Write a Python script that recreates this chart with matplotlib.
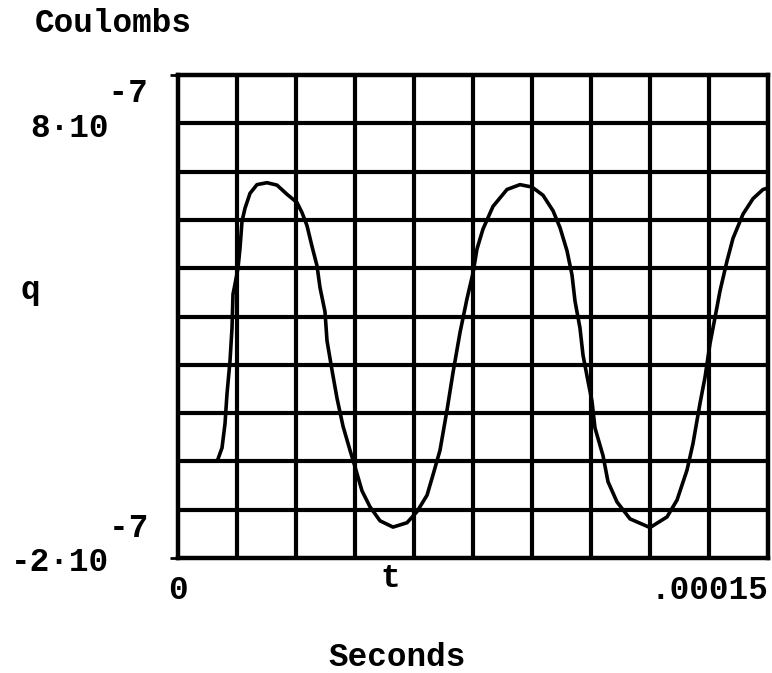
import numpy as np
import matplotlib
matplotlib.use("Agg")
import matplotlib.pyplot as plt
from matplotlib.ticker import MultipleLocator
import matplotlib.transforms as mtransforms

# ---- data ----
time_us = [10.17, 11.19, 11.95, 12.46, 13.22, 13.73, 13.98, 14.49, 15.25, 15.76,
           16.27, 17.03, 18.31, 20.08, 22.63, 25.17, 27.71, 30.25, 31.53, 32.80,
           34.07, 35.34, 36.10, 37.37, 37.88, 39.15, 40.42, 41.95, 43.73, 45.00,
           46.78, 48.81, 51.36, 54.66, 58.22, 60.76, 63.31, 64.83, 66.61, 68.39,
           69.92, 71.70, 73.48, 75.00, 76.02, 77.54, 80.09, 83.64, 86.95, 90.00,
           92.80, 95.34, 97.12, 98.90, 100.17, 100.93, 102.20, 102.97, 104.24, 105.26,
           106.02, 108.05, 109.32, 111.61, 114.92, 120.00, 124.32, 126.87, 129.41, 130.93,
           132.71, 133.98, 135.26, 136.53, 137.80, 139.58, 141.11, 143.65, 146.19, 148.73,
           150.00]
charge_e7 = [0.05, 0.28, 0.78, 1.40, 2.08, 2.76, 3.46, 3.67, 4.00, 4.41,
             4.97, 5.24, 5.55, 5.73, 5.77, 5.72, 5.53, 5.36, 5.15, 4.88,
             4.45, 4.05, 3.60, 3.10, 2.50, 1.89, 1.31, 0.73, 0.23, -0.11,
             -0.61, -0.94, -1.23, -1.36, -1.27, -1.04, -0.70, -0.28, 0.23, 1.06,
             1.84, 2.67, 3.37, 3.90, 4.40, 4.81, 5.28, 5.63, 5.73, 5.68,
             5.51, 5.19, 4.84, 4.36, 3.86, 3.32, 2.76, 2.20, 1.66, 1.24,
             0.69, 0.12, -0.42, -0.84, -1.19, -1.37, -1.15, -0.80, -0.18, 0.37,
             1.20, 1.74, 2.44, 2.98, 3.53, 4.15, 4.62, 5.12, 5.44, 5.63,
             5.66]

x_ticks = [0.0, 0.00015]
x_tick_labels = ["0", ".00015"]
y_ticks = [-2e-7, 8e-7]
y_tick_labels = ["     -7\n-2\u00b710", "    -7\n8\u00b710"]
x_grid_step = 1.5e-5
y_grid_step = 1e-7

t = np.array(time_us) * 1e-6
q = np.array(charge_e7) * 1e-7

FONT = "Liberation Mono"
FS = 23.5

fig = plt.figure(figsize=(7.72, 6.73), dpi=100)
fig.patch.set_facecolor("white")
ax = fig.add_axes([178 / 772, 1 - 558 / 673, 590 / 772, 483 / 673])

ax.plot(t, q, color="black", lw=2.6, solid_joinstyle="round", zorder=3)

ax.set_xlim(x_ticks[0], x_ticks[-1])
ax.set_ylim(y_ticks[0], y_ticks[-1])

ax.xaxis.set_minor_locator(MultipleLocator(x_grid_step))
ax.yaxis.set_minor_locator(MultipleLocator(y_grid_step))
ax.grid(which="minor", color="black", lw=3.0)
ax.tick_params(which="minor", length=0)

for s in ax.spines.values():
    s.set_linewidth(3.2)
    s.set_color("black")

ax.set_xticks(x_ticks)
ax.set_xticklabels(x_tick_labels, fontfamily=FONT, fontweight="bold", fontsize=FS)
ax.tick_params(axis="x", which="major", length=0, pad=12)
xl = ax.get_xticklabels()
xl[-1].set_ha("right")

ax.set_yticks(y_ticks)
ax.set_yticklabels([])
ax.tick_params(axis="y", which="major", length=6, width=2, direction="out")

# y tick labels (Mathematica-style: exponent on the line above)
offsets_pt = [9, -26]
trans = mtransforms.blended_transform_factory(ax.transAxes, ax.transData)
for val, lab, off in zip(y_ticks, y_tick_labels, offsets_pt):
    ax.annotate(lab, xy=(-0.051, val), xycoords=trans, xytext=(0, off),
                textcoords="offset points", ha="right", va="center",
                multialignment="left", fontfamily=FONT, fontweight="bold",
                fontsize=FS, linespacing=1.15, annotation_clip=False)

ax.text(0.36, -0.042, "t", transform=ax.transAxes, ha="center", va="center",
        fontfamily=FONT, fontweight="bold", fontsize=FS)
fig.text(397 / 772, 1 - 657 / 673, "Seconds", ha="center", va="center",
         fontfamily=FONT, fontweight="bold", fontsize=FS)
fig.text(35 / 772, 1 - 24 / 673, "Coulombs", ha="left", va="center",
         fontfamily=FONT, fontweight="bold", fontsize=FS)
fig.text(30 / 772, 1 - 290 / 673, "q", ha="center", va="center",
         fontfamily=FONT, fontweight="bold", fontsize=FS)

fig.savefig("out.png", dpi=100, facecolor="white")
